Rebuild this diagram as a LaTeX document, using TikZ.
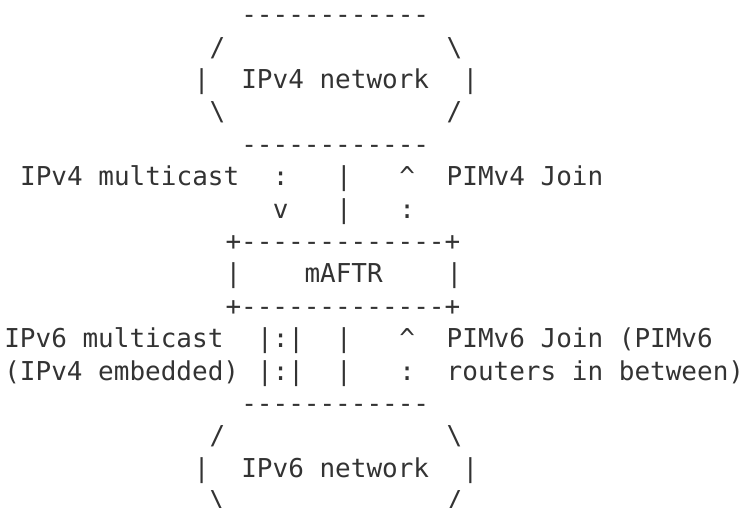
\documentclass[tikz,border=0pt]{standalone}
\usepackage{fontspec}
\setmonofont{DejaVu Sans Mono}
\usepackage{tikz}
\definecolor{inkgray}{HTML}{333333}

\begin{document}
\frenchspacing
\begin{tikzpicture}[x=15.8pt,y=-32.4pt,
        chars/.style={anchor=base west,inner sep=0pt,outer sep=0pt,text=inkgray,
            font=\ttfamily\fontsize{26}{32.4}\selectfont}]
        \useasboundingbox (-4.3pt,-8.7pt) rectangle (751.7pt,-516.7pt);
        % IPv4 network
        \node[chars] (vfourtop) at (15,1) {------------};
        \node[chars] (vfournw) at (13,2) {/};
        \node[chars] (vfourne) at (28,2) {\textbackslash};
        \node[chars] (vfourw) at (12,3) {|};
        \node[chars] (vfournet) at (15,3) {IPv4 network};
        \node[chars] (vfoure) at (29,3) {|};
        \node[chars] (vfoursw) at (13,4) {\textbackslash};
        \node[chars] (vfourse) at (28,4) {/};
        \node[chars] (vfourbot) at (15,5) {------------};
        % upper links
        \node[chars] (mcfour) at (1,6) {IPv4 multicast};
        \node[chars] (mcfoura) at (17,6) {:};
        \node[chars] (mcfourb) at (17,7) {v};
        \node[chars] (linkfoura) at (21,6) {|};
        \node[chars] (linkfourb) at (21,7) {|};
        \node[chars] (joinfoura) at (25,6) {\textasciicircum};
        \node[chars] (joinfourb) at (25,7) {:};
        \node[chars] (pimfour) at (28,6) {PIMv4 Join};
        % mAFTR
        \node[chars] (maftrtop) at (14,8) {+-------------+};
        \node[chars] (maftrw) at (14,9) {|};
        \node[chars] (maftr) at (19,9) {mAFTR};
        \node[chars] (maftre) at (28,9) {|};
        \node[chars] (maftrbot) at (14,10) {+-------------+};
        % lower links
        \node[chars] (mcsix) at (0,11) {IPv6 multicast};
        \node[chars] (embed) at (0,12) {(IPv4 embedded)};
        \node[chars] (mcsixa) at (16,11) {|:|};
        \node[chars] (mcsixb) at (16,12) {|:|};
        \node[chars] (linksixa) at (21,11) {|};
        \node[chars] (linksixb) at (21,12) {|};
        \node[chars] (joinsixa) at (25,11) {\textasciicircum};
        \node[chars] (joinsixb) at (25,12) {:};
        \node[chars] (pimsix) at (28,11) {PIMv6 Join (PIMv6};
        \node[chars] (routers) at (28,12) {routers in between)};
        % IPv6 network
        \node[chars] (vsixtop) at (15,13) {------------};
        \node[chars] (vsixnw) at (13,14) {/};
        \node[chars] (vsixne) at (28,14) {\textbackslash};
        \node[chars] (vsixw) at (12,15) {|};
        \node[chars] (vsixnet) at (15,15) {IPv6 network};
        \node[chars] (vsixe) at (29,15) {|};
        \node[chars] (vsixsw) at (13,16) {\textbackslash};
        \node[chars] (vsixse) at (28,16) {/};
    \end{tikzpicture}
\end{document}
